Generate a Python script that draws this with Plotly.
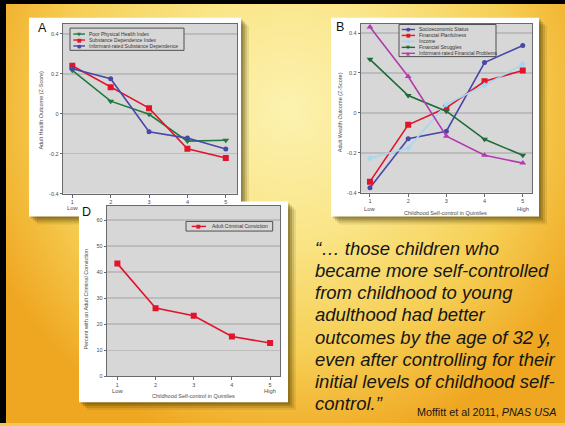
import plotly.graph_objects as go

W, H = 565, 426

# ------------------------------------------------------------------ data
QUINTILES = [1, 2, 3, 4, 5]
QUINTILE_LABELS = ["1", "2", "3", "4", "5"]
Z_TICKVALS = [-0.4, -0.2, 0, 0.2, 0.4]
Z_TICKTEXT = ["-0.4", "-0.2", "0", "0.2", "0.4"]
PCT_TICKVALS = [0, 10, 20, 30, 40, 50, 60]
PCT_TICKTEXT = ["0", "10", "20", "30", "40", "50", "60"]

# Panel A – adult health outcomes (Z-score)
health_names = ["Poor Physical Health Index", "Substance Dependence Index",
                "Informant-rated Substance Dependence"]
poor_physical_health = [0.217, 0.063, -0.003, -0.137, -0.133]
substance_dependence = [0.240, 0.132, 0.028, -0.175, -0.222]
informant_substance = [0.225, 0.175, -0.090, -0.122, -0.177]

# Panel B – adult wealth outcomes (Z-score)
wealth_names = ["Socioeconomic Status", "Financial Planfulness", "Income",
                "Financial Struggles", "Informant-rated Financial Problems"]
socioeconomic_status = [-0.375, -0.130, -0.092, 0.252, 0.337]
financial_planfulness = [-0.345, -0.060, 0.025, 0.158, 0.212]
income = [-0.228, -0.177, 0.043, 0.138, 0.243]
financial_struggles = [0.268, 0.087, 0.008, -0.133, -0.213]
informant_financial = [0.430, 0.182, -0.117, -0.213, -0.252]

# Panel D – percent with an adult criminal conviction
crime_names = ["Adult Criminal Conviction"]
criminal_conviction = [43.3, 26.2, 23.3, 15.3, 12.8]

QUOTE_LINES = [
    "\u201c\u2026 those children who",
    "became more self-controlled",
    "from childhood to young",
    "adulthood had better",
    "outcomes by the age of 32 y,",
    "even after controlling for their",
    "initial levels of childhood self-",
    "control.\u201d",
]
CITATION = "Moffitt et al 2011, <i>PNAS USA</i>"

# ------------------------------------------------------------------ styles / layout
FONT = "Liberation Sans, Arial, Helvetica, sans-serif"
AX_TXT = "#4d4d4d"
PLOT_BG = "#D7D7D7"
GRID = "#BCBCBC"
FRAME = "#6a6a6a"

GREEN = "#1F7A3C"
RED = "#E2142C"
BLUE = "#4848A8"
LIGHTBLUE = "#A6D8F2"
DKGREEN = "#1D6B38"
MAGENTA = "#B23CAE"

health_styles = [(GREEN, "triangle-down", 6), (RED, "square", 6), (BLUE, "circle", 5)]
wealth_styles = [(BLUE, "circle", 5), (RED, "square", 6), (LIGHTBLUE, "diamond", 5),
                 (DKGREEN, "triangle-down", 6), (MAGENTA, "triangle-up", 6)]
crime_styles = [(RED, "square", 6)]
GLYPH = {"triangle-down": "\u25BC", "square": "\u25A0", "circle": "\u25CF",
         "diamond": "\u25C6", "triangle-up": "\u25B2"}

# pixel boxes (x0, y0, x1, y1)
CARD = {"A": (29, 18, 241, 218), "B": (331, 18, 539, 218), "D": (79, 203, 288, 405)}
PLOT = {"A": (62.7, 24, 237.3, 195), "B": (360.7, 24, 532.3, 194), "D": (106.7, 207.3, 280, 379)}
XRANGE = {"A": [0.75, 5.30], "B": [0.757, 5.25], "D": [0.72, 5.26]}
YRANGE = {"A": [-0.4, 0.45], "B": [-0.4, 0.446], "D": [0, 65.5]}
AXID = {"A": "2", "B": "3", "D": "4"}


def px(x):
    return x / W


def py(y):
    return 1 - y / H


def rect(b):
    x0, y0, x1, y1 = b
    return [x0, x1, x1, x0, x0], [y0, y0, y1, y1, y0]


fig = go.Figure()

# ------------------------------------------------------------------ slide background (pixel axes)
gx, gy = rect((-40, -240, 620, 460))
fig.add_trace(go.Scatter(
    x=gx, y=gy, mode="lines", fill="toself", line=dict(width=0),
    fillgradient=dict(type="radial", colorscale=[[0, "#FCF2B0"], [0.35, "#FAE68A"],
                                                 [0.7, "#F6CF55"], [1, "#EFA620"]]),
    hoverinfo="skip", showlegend=False, xaxis="x", yaxis="y"))

for key in ["A", "B", "D"]:
    x0, y0, x1, y1 = CARD[key]
    for off, alpha in [(8, 0.10), (6, 0.16), (4, 0.22), (2, 0.25)]:
        sx, sy = rect((x0 + off, y0 + off, x1 + off, y1 + off))
        fig.add_trace(go.Scatter(x=sx, y=sy, mode="lines", fill="toself",
                                 fillcolor=f"rgba(70,55,0,{alpha})", line=dict(width=0),
                                 hoverinfo="skip", showlegend=False, xaxis="x", yaxis="y"))
    cx, cy = rect(CARD[key])
    fig.add_trace(go.Scatter(x=cx, y=cy, mode="lines", fill="toself", fillcolor="white",
                             line=dict(width=0), hoverinfo="skip", showlegend=False,
                             xaxis="x", yaxis="y"))

# ------------------------------------------------------------------ data traces
panels = {
    "A": (health_names, [poor_physical_health, substance_dependence, informant_substance], health_styles),
    "B": (wealth_names, [socioeconomic_status, financial_planfulness, income,
                         financial_struggles, informant_financial], wealth_styles),
    "D": (crime_names, [criminal_conviction], crime_styles),
}
for key, (names, series, styles) in panels.items():
    a = AXID[key]
    for name, vals, (col, sym, size) in zip(names, series, styles):
        fig.add_trace(go.Scatter(
            x=QUINTILES, y=vals, name=name, mode="lines+markers",
            line=dict(color=col, width=1.6),
            marker=dict(symbol=sym, size=size, color=col),
            showlegend=False, xaxis="x" + a, yaxis="y" + a))

# ------------------------------------------------------------------ axes
layout_axes = dict(
    xaxis=dict(domain=[0, 1], range=[0, W], visible=False, fixedrange=True),
    yaxis=dict(domain=[0, 1], range=[H, 0], visible=False, fixedrange=True),
)
for key in ["A", "B", "D"]:
    a = AXID[key]
    x0, y0, x1, y1 = PLOT[key]
    ytv, ytt = (PCT_TICKVALS, PCT_TICKTEXT) if key == "D" else (Z_TICKVALS, Z_TICKTEXT)
    layout_axes["xaxis" + a] = dict(
        domain=[px(x0), px(x1)], range=XRANGE[key], anchor="y" + a,
        tickvals=QUINTILES, ticktext=QUINTILE_LABELS, ticks="outside", ticklen=3,
        tickcolor=FRAME, tickwidth=1, tickfont=dict(size=5.5, color=AX_TXT, family=FONT),
        showgrid=False, zeroline=False, showline=True, mirror=True,
        linecolor=FRAME, linewidth=1, fixedrange=True)
    layout_axes["yaxis" + a] = dict(
        domain=[py(y1), py(y0)], range=YRANGE[key], anchor="x" + a,
        tickvals=ytv, ticktext=ytt, ticks="outside", ticklen=2,
        tickcolor=FRAME, tickwidth=1, tickfont=dict(size=5.5, color=AX_TXT, family=FONT),
        showgrid=True, gridcolor=GRID, gridwidth=1.6, zeroline=False, showline=True,
        mirror=True, linecolor=FRAME, linewidth=1, fixedrange=True)

# ------------------------------------------------------------------ annotations
ann = []


def text(x, y, s, size, color=AX_TXT, angle=0, xanchor="center", xref="paper"):
    ann.append(dict(x=x if xref != "paper" else px(x), y=py(y), xref=xref, yref="paper",
                    text=s, showarrow=False, textangle=angle, xanchor=xanchor,
                    yanchor="middle", font=dict(size=size, color=color, family=FONT)))


# panel letters
text(42, 28, "A", 12.5, "#111")
text(340, 27, "B", 12.5, "#111")
text(86.5, 213, "D", 12.5, "#111")
# y titles
text(40.7, 110.7, "Adult Health Outcome (Z-Score)", 5.5, angle=-90)
text(340, 113, "Adult Wealth Outcome (Z-Score)", 5.5, angle=-90)
text(86, 301.7, "Percent with an Adult Criminal Conviction", 5.5, angle=-90)
# x titles
text(445.5, 215, "Childhood Self-control in Quintiles", 5.5)
text(193.8, 399.3, "Childhood Self-control in Quintiles", 5.5)
# Low / High
text(QUINTILES[0], 209, "Low", 5.8, xref="x2")
text(QUINTILES[0], 210, "Low", 5.8, xref="x3")
text(QUINTILES[-1], 210, "High", 5.8, xref="x3")
text(QUINTILES[0], 394, "Low", 5.8, xref="x4")
text(QUINTILES[-1], 394, "High", 5.8, xref="x4")

# quote
for i, line in enumerate(QUOTE_LINES):
    ann.append(dict(x=px(313), y=py(250 + i * 22.4), xref="paper", yref="paper",
                    text="<i>" + line + "</i>", showarrow=False, xanchor="left",
                    yanchor="middle", font=dict(size=18.5, color="#161616", family=FONT)))
ann.append(dict(x=px(558), y=py(415), xref="paper", yref="paper", text=CITATION,
                showarrow=False, xanchor="right", yanchor="middle",
                font=dict(size=10.8, color="#161616", family=FONT)))

# ------------------------------------------------------------------ legends (boxes drawn as in the original)
shapes = []
LEGENDS = {
    "A": dict(box=(70, 28.3, 184, 50.7), row0=34.3, line=(73.3, 85), tx=86.7),
    "B": dict(box=(399, 24.7, 496, 57), row0=29.7, line=(401.7, 415), tx=416.7),
    "D": dict(box=(186, 223, 272.7, 232.7), row0=228, line=(191.7, 206), tx=210),
}
ROW = 6
for key, spec in LEGENDS.items():
    names, _, styles = panels[key]
    bx0, by0, bx1, by1 = spec["box"]
    shapes.append(dict(type="rect", xref="paper", yref="paper", x0=px(bx0), x1=px(bx1),
                       y0=py(by1), y1=py(by0), fillcolor=PLOT_BG,
                       line=dict(color="#505050", width=1), layer="above"))
    lx0, lx1 = spec["line"]
    for i, (name, (col, sym, size)) in enumerate(zip(names, styles)):
        yy = spec["row0"] + i * ROW
        shapes.append(dict(type="line", xref="paper", yref="paper", x0=px(lx0), x1=px(lx1),
                           y0=py(yy), y1=py(yy), line=dict(color=col, width=1.4), layer="above"))
        ann.append(dict(x=px((lx0 + lx1) / 2), y=py(yy), xref="paper", yref="paper",
                        text=GLYPH[sym], showarrow=False, xanchor="center", yanchor="middle",
                        font=dict(size=5, color=col, family="DejaVu Sans")))
        ann.append(dict(x=px(spec["tx"]), y=py(yy), xref="paper", yref="paper", text=name,
                        showarrow=False, xanchor="left", yanchor="middle",
                        font=dict(size=5, color="#333", family=FONT)))

# slide frame (black edges top / left)
shapes.append(dict(type="rect", xref="paper", yref="paper", x0=0, x1=1, y0=py(4), y1=1,
                   fillcolor="black", line=dict(width=0), layer="above"))
shapes.append(dict(type="rect", xref="paper", yref="paper", x0=0, x1=px(6), y0=0, y1=1,
                   fillcolor="black", line=dict(width=0), layer="above"))

fig.update_layout(
    width=W, height=H, margin=dict(l=0, r=0, t=0, b=0),
    paper_bgcolor="#F4C84A", plot_bgcolor=PLOT_BG,
    showlegend=False, annotations=ann, shapes=shapes,
    font=dict(family=FONT), **layout_axes)

fig.write_html("out.html", config={"displayModeBar": False, "staticPlot": True},
               post_script="document.body.style.margin='0';document.body.style.overflow='hidden';")
